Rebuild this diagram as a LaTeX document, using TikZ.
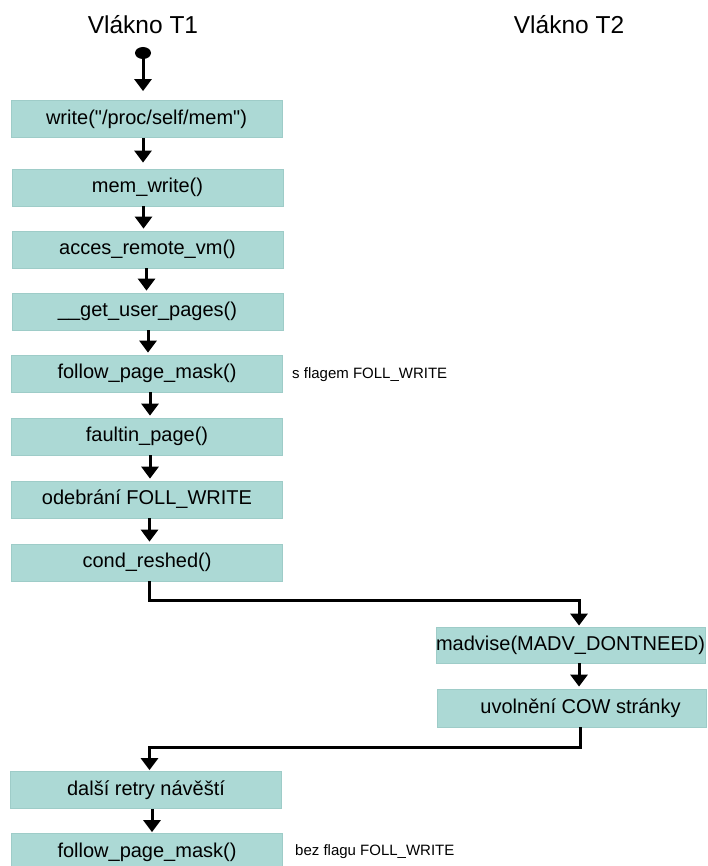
\documentclass[tikz,border=0pt]{standalone}
\usepackage{fontspec}
\setmainfont{Liberation Sans}
\usetikzlibrary{arrows.meta,shapes.geometric}
\definecolor{boxfill}{RGB}{172,217,213}
\definecolor{boxline}{RGB}{158,204,200}
\begin{document}
\begin{tikzpicture}[x=1pt,y=-1pt,
  box/.style={rectangle, fill=boxfill, draw=boxline, line width=0.8pt,
    minimum width=271pt, minimum height=37pt, inner xsep=0pt, inner ysep=0pt,
    font=\fontsize{20}{24}\selectfont},
  arr/.style={line width=3pt, -{Triangle[width=17pt,length=12pt]}, shorten >=2pt},
  side/.style={font=\fontsize{15}{18}\selectfont, anchor=west, inner sep=0pt},
  ttl/.style={font=\fontsize{24.5}{28}\selectfont, anchor=base, inner sep=0pt}]
\useasboundingbox (0,0) rectangle (707,866);
\fill[white] (0,0) rectangle (707,866);

\node[ttl] (t1) at (143,34) {Vlákno T1};
\node[ttl] (t2) at (569,34) {Vlákno T2};

\node[ellipse, fill=black, minimum width=16pt, minimum height=12pt, inner sep=0pt] (start) at (143,53) {};

\node[box] (b1) at (146.5,119) {write(\textquotedbl/proc/self/mem\textquotedbl)};
\node[box] (b2) at (147.5,187.5) {mem\_write()};
\node[box] (b3) at (147.5,249.5) {acces\_remote\_vm()};
\node[box] (b4) at (147.5,311.5) {\_\_get\_user\_pages()};
\node[box] (b5) at (147,373.5) {follow\_page\_mask()};
\node[box] (b6) at (147,436.5) {faultin\_page()};
\node[box] (b7) at (147,499.5) {odebrání FOLL\_WRITE};
\node[box] (b8) at (147,562.5) {cond\_reshed()};
\node[box, minimum width=269pt, minimum height=36pt] (m1) at (570.5,645) {madvise(MADV\_DONTNEED)};
\node[box, minimum width=269pt, minimum height=38pt] (m2) at (571.5,708) {\hspace*{18pt}uvolnění COW stránky};
\node[box] (b9) at (146,790) {další retry návěští};
\node[box] (b10) at (147,852) {follow\_page\_mask()};

\node[side] (s1) at (292,375) {s flagem FOLL\_WRITE};
\node[side] (s2) at (295,852) {bez flagu FOLL\_WRITE};

\draw[arr, shorten >=9pt] (start.center) -- (b1.north -| 143,0);
\draw[arr, shorten >=6pt] (b1.south -| 143,0) -- (b2.north -| 143,0);
\draw[arr] (b2.south -| 143.5,0) -- (b3.north -| 143.5,0);
\draw[arr] (b3.south -| 146.5,0) -- (b4.north -| 146.5,0);
\draw[arr] (b4.south -| 148,0) -- (b5.north -| 148,0);
\draw[arr] (b5.south -| 150,0) -- (b6.north -| 150,0);
\draw[arr] (b6.south -| 150,0) -- (b7.north -| 150,0);
\draw[arr] (b7.south -| 149.5,0) -- (b8.north -| 149.5,0);

\coordinate (j1) at (149,600);
\draw[arr, shorten >=1pt] (b8.south -| j1) -- (j1) -| (m1.north -| 579,0);
\draw[arr] (m1.south -| 579,0) -- (m2.north -| 579,0);
\coordinate (j2) at (580,747);
\draw[arr, shorten >=1pt] (m2.south -| j2) -- (j2) -| (b9.north -| 149.5,0);
\draw[arr, shorten >=1pt] (b9.south -| 152,0) -- (b10.north -| 152,0);
\end{tikzpicture}
\end{document}
